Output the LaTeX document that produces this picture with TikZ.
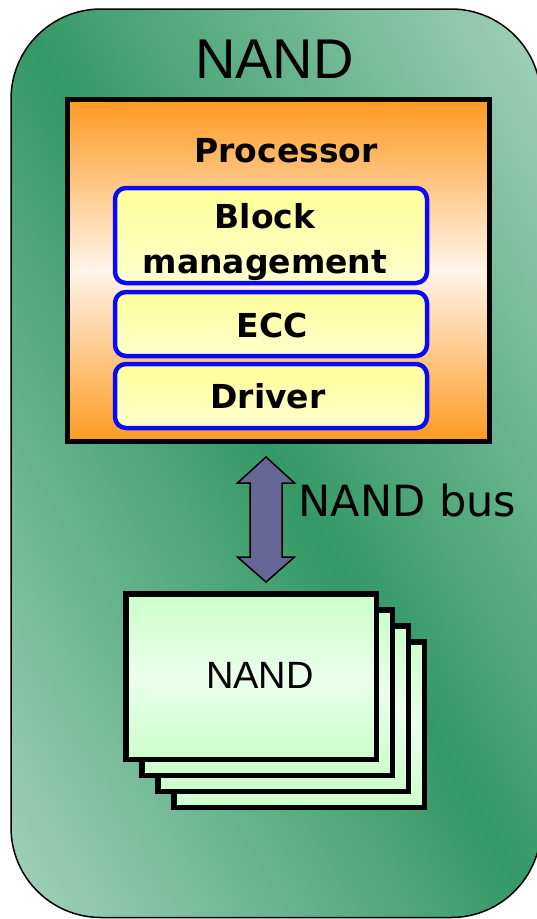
\documentclass[tikz,border=0pt]{standalone}
\usepackage{fontspec}
\setmainfont{DejaVu Sans}
\newfontfamily\helv{Liberation Sans}
\usetikzlibrary{calc}

\definecolor{greendark}{HTML}{349966}
\definecolor{greenlight}{HTML}{A2D1BB}
\definecolor{orangedeep}{HTML}{FF9A22}
\definecolor{orangepale}{HTML}{FFF4EA}
\definecolor{yellowtop}{HTML}{FFFF99}
\definecolor{yellowlow}{HTML}{FFFFCE}
\definecolor{blueline}{HTML}{0A0AF5}
\definecolor{chipedge}{HTML}{CCFFCC}
\definecolor{chipmid}{HTML}{EAFFEA}
\definecolor{busfill}{HTML}{666699}

% diagonal band: light corners, dark along the main diagonal
\pgfdeclarehorizontalshading{greenband}{100bp}{color(0bp)=(greenlight); color(16bp)=(greenlight); color(50bp)=(greendark); color(84bp)=(greenlight); color(100bp)=(greenlight)}
% orange with a pale middle
\pgfdeclareverticalshading{procband}{100bp}{color(0bp)=(orangedeep); color(25bp)=(orangedeep); color(50bp)=(orangepale); color(75bp)=(orangedeep); color(100bp)=(orangedeep)}
% light green with a paler middle
\pgfdeclareverticalshading{chipband}{100bp}{color(0bp)=(chipedge); color(25bp)=(chipedge); color(50bp)=(chipmid); color(75bp)=(chipedge); color(100bp)=(chipedge)}

\tikzset{
  outerbox/.style={draw=black, line width=1.5pt, rounded corners=90pt, shading=greenband, shading angle=30},
  procbox/.style={rectangle, draw=black, line width=5pt, shading=procband, minimum width=422pt, minimum height=342pt, inner sep=0pt},
  layerbox/.style={rectangle, draw=blueline, line width=4.5pt, rounded corners=11pt, top color=yellowtop, bottom color=yellowlow, minimum width=312pt, inner sep=0pt},
  chipbox/.style={rectangle, draw=black, line width=5.5pt, shading=chipband, minimum width=250.5pt, minimum height=165.5pt, inner sep=0pt},
  busarrow/.style={draw=black, line width=1.5pt, fill=busfill, line join=miter},
  lbl/.style={inner sep=0pt, anchor=base, text=black},
  midtext/.style={lbl, font=\bfseries\fontsize{33}{45}\selectfont, align=center},
}

\begin{document}
\begin{tikzpicture}[x=1pt, y=-1pt]
  \useasboundingbox (0,0) rectangle (537,919);
  \clip (0,0) rectangle (537,919);

  % enclosing module
  \path[outerbox] (11,9) rectangle (541,917.5);
  \node[lbl, font=\helv\fontsize{56}{60}\selectfont] (title) at (274.5,78) {NAND};

  % processor with its software layers
  \node[procbox] (proc) at (278.5,270.5) {};
  \node[midtext] (proclabel) at (286,162) {Processor};
  \node[layerbox, minimum height=95pt] (block) at (271,235.5) {};
  \node[layerbox, minimum height=64pt] (ecc) at (271,324) {};
  \node[layerbox, minimum height=64pt] (driver) at (271,396) {};
  \node[midtext] (blocklabel) at (265,273) {Block\\management};
  \node[midtext] (ecclabel) at (272,337) {ECC};
  \node[midtext] (driverlabel) at (268,408) {Driver};

  % bus between processor and flash chips
  \coordinate (busmid) at (266,519.5);
  \draw[busarrow] ($(busmid)+(0,-62.5)$) -- ++(28.5,26) -- ++(-12.5,0) -- ++(0,74)
    -- ++(12.5,0) -- ++(-28.5,25) -- ++(-28.5,-25) -- ++(12.5,0) -- ++(0,-74)
    -- ++(-12.5,0) -- cycle;
  \node[lbl, anchor=base west, font=\fontsize{43}{50}\selectfont] (buslabel) at (298.5,516) {NAND bus};

  % stack of flash chips, back to front
  \node[chipbox] (chipD) at (299,724.5) {};
  \node[chipbox] (chipC) at (283,708.5) {};
  \node[chipbox] (chipB) at (267,692.5) {};
  \node[chipbox] (chipA) at (251,676.5) {};
  \node[lbl, font=\helv\fontsize{38}{44}\selectfont] (chiplabel) at (260,688) {NAND};
\end{tikzpicture}
\end{document}
